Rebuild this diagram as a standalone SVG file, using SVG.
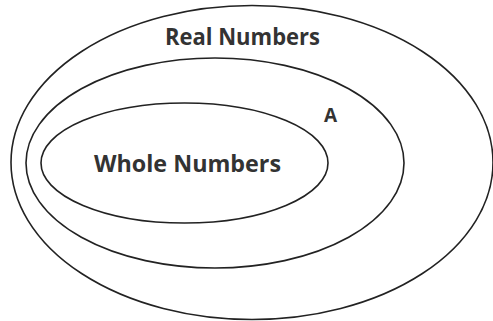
<svg xmlns="http://www.w3.org/2000/svg" width="493" height="321" viewBox="0 0 493 321">
<style>
.set{fill:none;stroke:#222;stroke-width:1.6}
.lbl{font-family:"Open Sans","Liberation Sans",sans-serif;font-weight:bold;fill:#333}
</style>
<rect width="493" height="321" fill="#fff"/>
<g id="real">
<ellipse class="set" cx="252" cy="162.5" rx="241" ry="157"/>
<text class="lbl" x="242.5" y="45" font-size="24" text-anchor="middle" textLength="155" lengthAdjust="spacingAndGlyphs">Real Numbers</text>
</g>
<g id="a">
<ellipse class="set" cx="215" cy="163" rx="189" ry="105"/>
<text class="lbl" x="330.5" y="122" font-size="19" text-anchor="middle">A</text>
</g>
<g id="whole">
<ellipse class="set" cx="184.5" cy="163" rx="143.5" ry="60"/>
<text class="lbl" x="187.5" y="172" font-size="24" text-anchor="middle" textLength="187" lengthAdjust="spacingAndGlyphs">Whole Numbers</text>
</g>
<g id="connectors"/>
</svg>
